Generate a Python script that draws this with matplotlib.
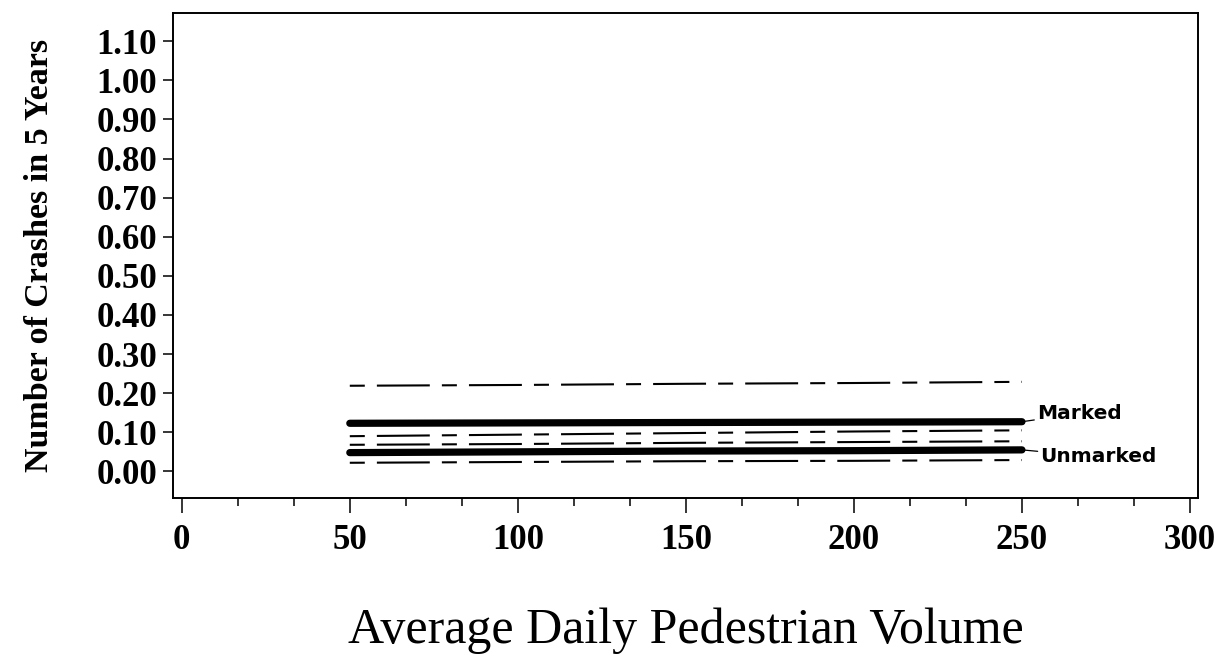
import matplotlib
matplotlib.use("Agg")
import matplotlib.pyplot as plt
from matplotlib.ticker import MultipleLocator, FixedLocator

# Data
volume = [50, 100, 150, 200, 250]
marked = [0.123, 0.124, 0.125, 0.126, 0.127]
marked_upper = [0.219, 0.221, 0.224, 0.226, 0.229]
marked_lower = [0.090, 0.094, 0.098, 0.102, 0.105]
unmarked = [0.048, 0.050, 0.052, 0.053, 0.055]
unmarked_upper = [0.068, 0.070, 0.073, 0.075, 0.077]
unmarked_lower = [0.022, 0.024, 0.026, 0.027, 0.029]
x_ticks = [0, 50, 100, 150, 200, 250, 300]
y_ticks = [0.0, 0.1, 0.2, 0.3, 0.4, 0.5, 0.6, 0.7, 0.8, 0.9, 1.0, 1.1]

fig = plt.figure(figsize=(12.2, 6.56), dpi=100)
ax = fig.add_axes([0.1416, 0.2409, 0.982 - 0.1416, 0.9806 - 0.2409])

dash = (0, (7.2, 5.8, 25.4, 5.8))
for s in (marked_upper, marked_lower, unmarked_upper, unmarked_lower):
    ax.plot(volume, s, color="black", lw=1.5, linestyle=dash)
for s in (marked, unmarked):
    ax.plot(volume, s, color="black", lw=5.2, solid_capstyle="round")

# labels with leader lines
ax.annotate("Marked", xy=(volume[-1], marked[-1]), xytext=(254.5, 0.148),
            fontsize=14.5, fontweight="bold", family="DejaVu Sans",
            va="center", ha="left",
            arrowprops=dict(arrowstyle="-", color="black", lw=0.9,
                            shrinkA=0, shrinkB=0))
ax.annotate("Unmarked", xy=(volume[-1], unmarked[-1]), xytext=(255.5, 0.037),
            fontsize=14.5, fontweight="bold", family="DejaVu Sans",
            va="center", ha="left",
            arrowprops=dict(arrowstyle="-", color="black", lw=0.9,
                            shrinkA=0, shrinkB=0))

ax.set_xlim(-2.68, 302.4)
ax.set_ylim(-0.068, 1.173)

ax.xaxis.set_major_locator(FixedLocator(x_ticks))
ax.xaxis.set_minor_locator(MultipleLocator(50 / 3))
ax.yaxis.set_major_locator(FixedLocator(y_ticks))
ax.set_xticklabels([str(v) for v in x_ticks])
ax.set_yticklabels([f"{v:.2f}" for v in y_ticks])

for lab in ax.get_xticklabels() + ax.get_yticklabels():
    lab.set_fontfamily("Liberation Serif")
    lab.set_fontweight("bold")
    lab.set_fontsize(25)

ax.tick_params(axis="x", which="major", direction="out", length=10.8, width=1.1, pad=8)
ax.tick_params(axis="x", which="minor", direction="out", length=5.8, width=1.1)
ax.tick_params(axis="y", which="major", direction="out", length=7.2, width=1.1, pad=4)
for sp in ax.spines.values():
    sp.set_linewidth(1.4)

ax.set_xlabel("Average Daily Pedestrian Volume", fontfamily="Liberation Serif",
              fontsize=36, labelpad=36)
ax.set_ylabel("Number of Crashes in 5 Years", fontfamily="Liberation Serif",
              fontweight="bold", fontsize=24.5, labelpad=30)

fig.savefig("out.png", dpi=100)
